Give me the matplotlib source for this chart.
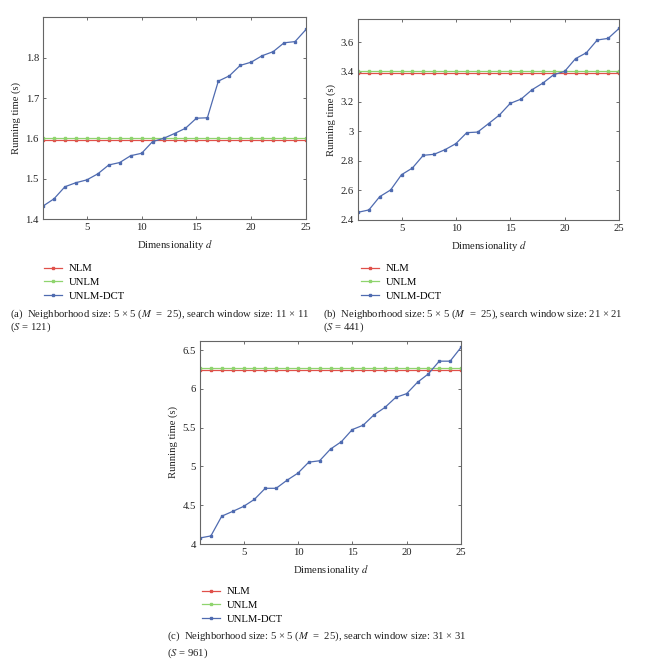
import numpy as np
import matplotlib
matplotlib.use("Agg")
import matplotlib.pyplot as plt
from matplotlib.ticker import FixedLocator

plt.rcParams['font.family'] = ['Liberation Serif', 'DejaVu Serif']
plt.rcParams['mathtext.fontset'] = 'stix'

d = list(range(1, 26))

# Panel (a): S = 121
nlm_a = 1.597
unlm_a = 1.602
dct_a = [1.432, 1.450, 1.480, 1.490, 1.497, 1.512, 1.534, 1.540, 1.557, 1.563,
         1.592, 1.600, 1.612, 1.625, 1.650, 1.651, 1.742, 1.755, 1.781, 1.789,
         1.805, 1.815, 1.837, 1.840, 1.870]

# Panel (b): S = 441
nlm_b = 3.393
unlm_b = 3.408
dct_b = [2.452, 2.468, 2.558, 2.603, 2.706, 2.751, 2.837, 2.844, 2.875, 2.916,
         2.990, 2.994, 3.051, 3.109, 3.188, 3.217, 3.280, 3.325, 3.382, 3.404,
         3.490, 3.530, 3.616, 3.627, 3.694]

# Panel (c): S = 961
nlm_c = 6.249
unlm_c = 6.275
dct_c = [4.078, 4.104, 4.359, 4.420, 4.484, 4.575, 4.718, 4.718, 4.822, 4.913,
         5.055, 5.073, 5.224, 5.319, 5.475, 5.531, 5.665, 5.760, 5.890, 5.938,
         6.085, 6.193, 6.357, 6.357, 6.535]

labels = ['NLM', 'UNLM', 'UNLM-DCT']
colors = ['#e0504a', '#8fd46e', '#4f6bb0']

captions = [
    ("(a)  Neighborhood size: 5 \u00d7 5 ($M$  =  25), search window size: 11 \u00d7 11", "($S$ = 121)"),
    ("(b)  Neighborhood size: 5 \u00d7 5 ($M$  =  25), search window size: 21 \u00d7 21", "($S$ = 441)"),
    ("(c)  Neighborhood size: 5 \u00d7 5 ($M$  =  25), search window size: 31 \u00d7 31", "($S$ = 961)"),
]

W, H = 651, 667
fig = plt.figure(figsize=(W / 100, H / 100), dpi=100)

def fx(px):
    return px / W

def fy(py):
    return 1 - py / H

panels = [
    dict(box=(43, 17, 306, 219), nlm=nlm_a, unlm=unlm_a, dct=dct_a,
         ylim=(1.4, 1.901), yticks=[1.4, 1.5, 1.6, 1.7, 1.8],
         leg=(44, 264), cap=(10, 314, 327)),
    dict(box=(358, 19, 619, 220), nlm=nlm_b, unlm=unlm_b, dct=dct_b,
         ylim=(2.4, 3.758), yticks=[2.4, 2.6, 2.8, 3.0, 3.2, 3.4, 3.6],
         leg=(361, 264), cap=(323, 314, 327)),
    dict(box=(200, 341, 461, 544), nlm=nlm_c, unlm=unlm_c, dct=dct_c,
         ylim=(4.0, 6.617), yticks=[4, 4.5, 5, 5.5, 6, 6.5],
         leg=(202, 587), cap=(167, 636, 653)),
]

fs = 7.7
for i, p in enumerate(panels):
    l, t, r, b = p['box']
    ax = fig.add_axes([fx(l), fy(b), fx(r) - fx(l), fy(t) - fy(b)])
    ax.plot(d, [p['nlm']] * len(d), color=colors[0], lw=0.9, marker='s', ms=2.0,
            label=labels[0])
    ax.plot(d, [p['unlm']] * len(d), color=colors[1], lw=0.9, marker='s', ms=2.0,
            label=labels[1])
    ax.plot(d, p['dct'], color=colors[2], lw=0.9, marker='s', ms=2.0,
            label=labels[2])
    ax.set_xlim(1, 25)
    ax.set_ylim(*p['ylim'])
    ax.xaxis.set_major_locator(FixedLocator([5, 10, 15, 20, 25]))
    ax.yaxis.set_major_locator(FixedLocator(p['yticks']))
    ax.set_yticklabels([('%g' % v) for v in p['yticks']])
    ax.tick_params(direction='in', length=2.5, width=0.6, colors='#555555',
                   labelcolor='#222222', labelsize=fs, top=True, right=True, pad=3)
    for s in ax.spines.values():
        s.set_color('#666666')
        s.set_linewidth(0.8)
    ax.set_xlabel('Dimensionality $d$', fontsize=fs, color='#222222', labelpad=4)
    ax.set_ylabel('Running time (s)', fontsize=fs, color='#222222', labelpad=3)
    lx, ly = p['leg']
    ax.legend(loc='upper left', bbox_to_anchor=(fx(lx), fy(ly)),
              bbox_transform=fig.transFigure, frameon=False, fontsize=fs,
              handlelength=1.7, handletextpad=0.6, labelspacing=0.38,
              borderpad=0, borderaxespad=0, markerscale=0.8)
    cx, cy1, cy2 = p['cap']
    cap1, cap2 = captions[i]
    fig.text(fx(cx), fy(cy1), cap1, fontsize=fs, va='center', ha='left', color='#222222')
    fig.text(fx(cx), fy(cy2), cap2, fontsize=fs, va='center', ha='left', color='#222222')

fig.savefig('out.png', dpi=100)
